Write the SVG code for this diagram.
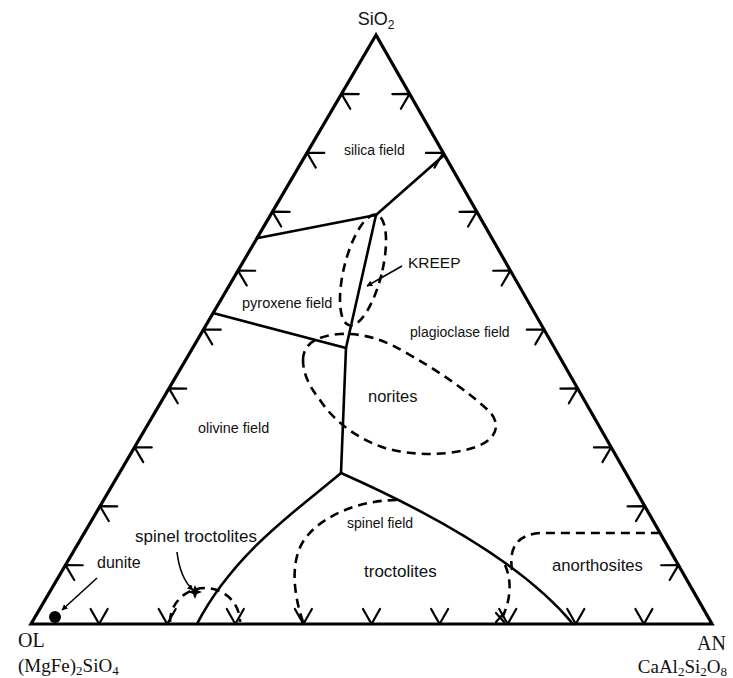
<svg xmlns="http://www.w3.org/2000/svg" width="733" height="678" viewBox="0 0 733 678">
<style>
.edge{fill:none;stroke:#000;stroke-width:3.2;stroke-linejoin:miter}
.bnd{fill:none;stroke:#000;stroke-width:2.6;stroke-linecap:round}
.dash{fill:none;stroke:#000;stroke-width:2.6;stroke-dasharray:9 6}
.tk{fill:none;stroke:#000;stroke-width:2.2;stroke-linecap:round;stroke-linejoin:round}
.lead{fill:none;stroke:#000;stroke-width:1.6}
.f{font-family:"Liberation Sans",Arial,sans-serif;fill:#111}
.s{font-family:"Liberation Serif","Times New Roman",serif;fill:#111}
</style>
<defs>
<path id="tick" class="tk" d="M-8.5,-15 L0,0 L8.5,-15"/>
<marker id="ah" viewBox="0 0 10 10" refX="9" refY="5" markerWidth="6" markerHeight="6" orient="auto" markerUnits="userSpaceOnUse">
<path d="M0,0 L10,5 L0,10 Z" fill="#000"/>
</marker>
</defs>

<g id="triangle">
<path class="edge" d="M376,35 L31,624 L712,624 Z"/>
</g>

<g id="ticks">
<use href="#tick" transform="translate(65.5,565.1) rotate(120)"/>
<use href="#tick" transform="translate(100,506.2) rotate(120)"/>
<use href="#tick" transform="translate(134.5,447.3) rotate(120)"/>
<use href="#tick" transform="translate(169,388.4) rotate(120)"/>
<use href="#tick" transform="translate(203.5,329.5) rotate(120)"/>
<use href="#tick" transform="translate(238,270.6) rotate(120)"/>
<use href="#tick" transform="translate(272.5,211.7) rotate(120)"/>
<use href="#tick" transform="translate(307,152.8) rotate(120)"/>
<use href="#tick" transform="translate(341.5,93.9) rotate(120)"/>
<use href="#tick" transform="translate(678.4,565.1) rotate(-120)"/>
<use href="#tick" transform="translate(644.8,506.2) rotate(-120)"/>
<use href="#tick" transform="translate(611.2,447.3) rotate(-120)"/>
<use href="#tick" transform="translate(577.6,388.4) rotate(-120)"/>
<use href="#tick" transform="translate(544,329.5) rotate(-120)"/>
<use href="#tick" transform="translate(510.4,270.6) rotate(-120)"/>
<use href="#tick" transform="translate(476.8,211.7) rotate(-120)"/>
<use href="#tick" transform="translate(443.2,152.8) rotate(-120)"/>
<use href="#tick" transform="translate(409.6,93.9) rotate(-120)"/>
<use href="#tick" transform="translate(99.1,624)"/>
<use href="#tick" transform="translate(167.2,624)"/>
<use href="#tick" transform="translate(235.3,624)"/>
<use href="#tick" transform="translate(303.4,624)"/>
<use href="#tick" transform="translate(371.5,624)"/>
<use href="#tick" transform="translate(439.6,624)"/>
<use href="#tick" transform="translate(507.7,624)"/>
<use href="#tick" transform="translate(575.8,624)"/>
<use href="#tick" transform="translate(643.9,624)"/>
</g>

<g id="connectors">
<path class="bnd" d="M258,238 L376,215"/>
<path class="bnd" d="M376,215 L443,156"/>
<path class="bnd" d="M376,215 L346,348 L341,473"/>
<path class="bnd" d="M213,313 L346,348"/>
<path class="bnd" d="M341,473 C300,508 234,552 197,624"/>
<path class="bnd" d="M341,473 C420,508 520,560 573,624"/>
</g>

<g id="kreep">
<ellipse class="dash" cx="363" cy="270" rx="19" ry="57" transform="rotate(14 363 270)"/>
<path class="lead" d="M402,266 L367,286" marker-end="url(#ah)"/>
<text class="f" x="408" y="268" font-size="15.5">KREEP</text>
</g>

<g id="norites">
<path class="dash" d="M303,360 C303,345 315,336 340,334 C365,333 385,340 410,355 C440,372 470,393 490,412 C505,430 490,445 465,450 C440,456 410,455 385,448 C360,440 335,423 320,400 C308,385 303,372 303,360 Z"/>
<text class="f" x="368" y="402" font-size="16.5">norites</text>
</g>

<g id="troctolites">
<path class="dash" d="M303,622 C292,590 290,555 308,535 C325,515 360,500 398,500"/>
<path class="dash" d="M505,565 C512,580 511,600 502,618"/>
<path class="tk" d="M496,613 L504,622 M504,613 L496,622"/>
<text class="f" x="364" y="577" font-size="17">troctolites</text>
</g>

<g id="anorthosites">
<path class="dash" d="M512,570 C509,550 515,535 540,533 L660,533"/>
<text class="f" x="552" y="571" font-size="16.7">anorthosites</text>
</g>

<g id="spinel-troctolites">
<path class="dash" d="M170,622 A35,34 0 0 1 240,622"/>
<path class="lead" d="M177,552 Q180,578 193,590" marker-end="url(#ah)"/>
<polygon points="195,585 197,590 202,592 197,594 195,599 193,594 188,592 193,590" fill="#000"/>
<text class="f" x="135" y="542" font-size="17">spinel troctolites</text>
</g>

<g id="dunite">
<circle cx="55" cy="617" r="6" fill="#000"/>
<path class="lead" d="M97,578 L62,610" marker-end="url(#ah)"/>
<text class="f" x="97" y="568" font-size="16">dunite</text>
</g>

<g id="field-labels">
<text class="f" x="344" y="155" font-size="14">silica field</text>
<text class="f" x="242" y="308" font-size="14.5">pyroxene field</text>
<text class="f" x="410" y="337" font-size="14">plagioclase field</text>
<text class="f" x="198" y="433" font-size="14.4">olivine field</text>
<text class="f" x="347" y="528" font-size="14">spinel field</text>
</g>

<g id="apex-labels">
<text class="f" x="376" y="25" font-size="18" text-anchor="middle">SiO<tspan font-size="12" dy="4">2</tspan></text>
<text class="s" x="18" y="647" font-size="20">OL</text>
<text class="s" x="18" y="672" font-size="19">(MgFe)<tspan font-size="13" dy="3">2</tspan><tspan dy="-3">SiO</tspan><tspan font-size="13" dy="3">4</tspan></text>
<text class="s" x="726" y="650" font-size="20" text-anchor="end">AN</text>
<text class="s" x="727" y="673" font-size="19" text-anchor="end">CaAl<tspan font-size="13" dy="3">2</tspan><tspan dy="-3">Si</tspan><tspan font-size="13" dy="3">2</tspan><tspan dy="-3">O</tspan><tspan font-size="13" dy="3">8</tspan></text>
</g>
</svg>
